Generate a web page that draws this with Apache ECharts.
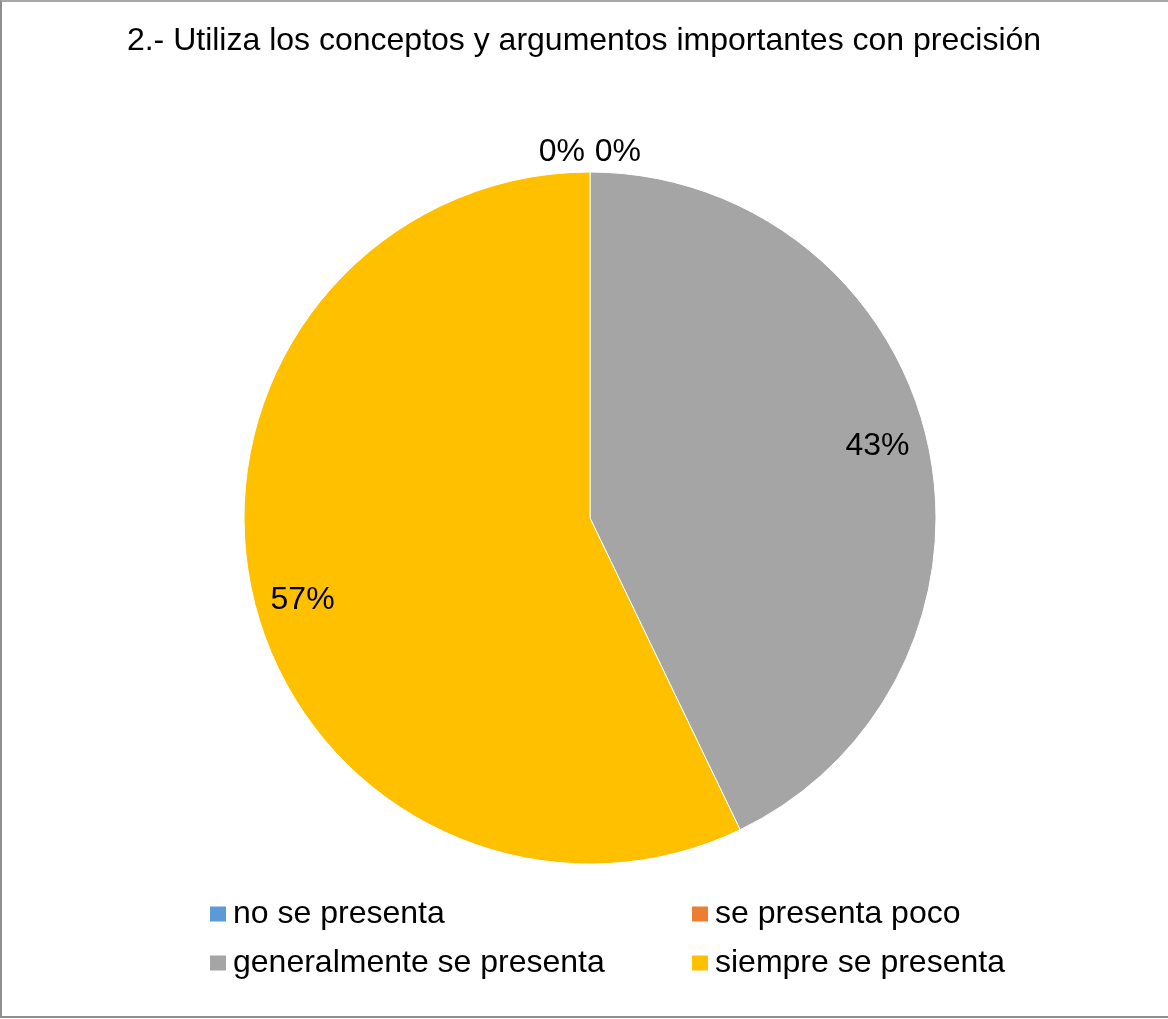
<!DOCTYPE html>
<html><head><meta charset="utf-8">
<script src="https://cdn.jsdelivr.net/npm/echarts@6/dist/echarts.min.js"></script>
<style>html,body{margin:0;padding:0;background:#fff}
#c{position:absolute;left:0;top:0;width:1168px;height:1019px}
#b{position:absolute;left:0;top:0;width:1168px;height:1018px;box-sizing:border-box;border-left:2px solid #8e8e8e;border-top:2px solid #a8a8a8;border-bottom:2px solid #8e8e8e;pointer-events:none}</style>
</head><body><div id="c"></div><div id="b"></div>
<script>
const titleText = '2.- Utiliza los conceptos y argumentos importantes con precisión';
const categories = ['no se presenta', 'se presenta poco', 'generalmente se presenta', 'siempre se presenta'];
const values = [0, 0, 3, 4];
const colors = ['#5B9BD5', '#ED7D31', '#A5A5A5', '#FFC000'];
const font = 'Liberation Sans, Arial, sans-serif';
const total = values.reduce((a, b) => a + b, 0);
const pct = v => Math.round(v / total * 100) + '%';

const chart = echarts.init(document.getElementById('c'), null, {renderer: 'canvas'});
const dataMain = categories.map((n, i) => ({name: n, value: values[i], itemStyle: {color: colors[i]},
  label: {show: values[i] === 0}}));
const dataLbl = categories.map((n, i) => ({name: n, value: values[i],
  label: {show: values[i] !== 0}}));
const legendText = {fontFamily: font, fontSize: 32, color: '#000', lineHeight: 32, padding: [0, 0, 0, 2]};
const legendBase = {orient: 'vertical', top: 898, padding: 0, itemWidth: 16, itemHeight: 15, itemGap: 17, icon: 'rect',
  itemStyle: {borderWidth: 0}, textStyle: legendText};
chart.setOption({
  animation: false,
  title: {text: titleText, left: 'center', top: 20, textStyle: {fontFamily: font, fontSize: 32, fontWeight: 'normal', color: '#000'}},
  legend: [
    Object.assign({data: [categories[0], categories[2]], left: 210}, legendBase),
    Object.assign({data: [categories[1], categories[3]], left: 692}, legendBase)
  ],
  series: [
    {type: 'pie', center: [590, 518], radius: 346, startAngle: 90, clockwise: true, avoidLabelOverlap: false,
     itemStyle: {borderColor: '#fff', borderWidth: 1},
     label: {position: 'outside', formatter: p => pct(p.value), fontFamily: font, fontSize: 32, color: '#000'},
     labelLine: {show: false, length: 4, length2: 0},
     labelLayout: p => p.dataIndex === 0 ? {dx: 0, dy: -16} : (p.dataIndex === 1 ? {dx: 56, dy: -16} : {}),
     data: dataMain},
    {type: 'pie', center: [590, 518], radius: [252, 346], startAngle: 90, clockwise: true, silent: true,
     itemStyle: {color: 'transparent'}, emphasis: {disabled: true},
     label: {position: 'inside', formatter: p => pct(p.value), fontFamily: font, fontSize: 32, color: '#000'},
     labelLayout: p => p.dataIndex === 2 ? {dx: -7, dy: -5} : (p.dataIndex === 3 ? {dx: 7, dy: 15} : {}),
     data: dataLbl}
  ]
});
</script></body></html>
